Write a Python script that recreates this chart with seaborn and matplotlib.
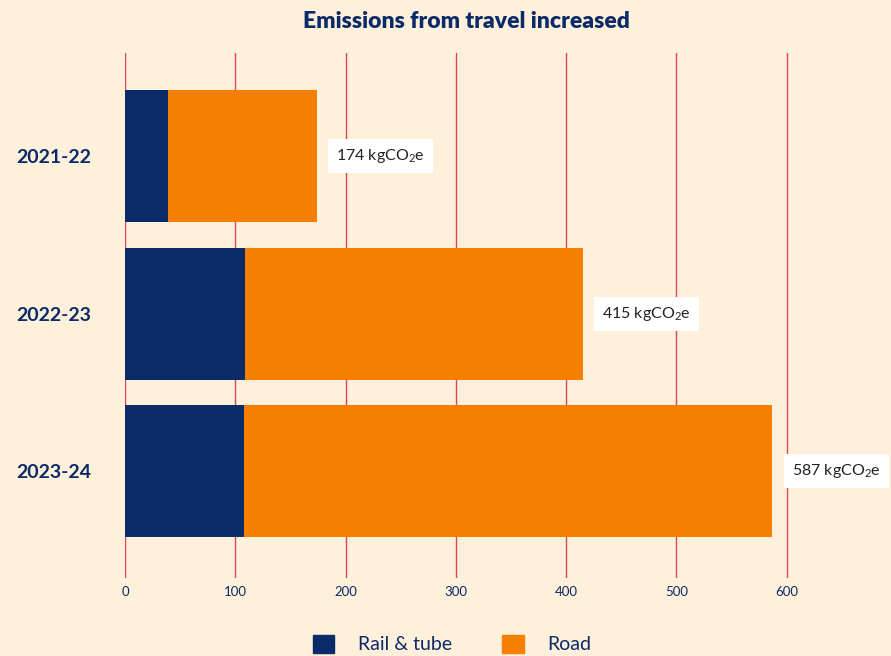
import numpy as np
import pandas as pd
import matplotlib.pyplot as plt
import seaborn as sns
from matplotlib.patches import Patch

# datos
years = ["2021-22", "2022-23", "2023-24"]
rail = [39, 109, 108]
road = [135, 306, 479]
xticks = [0, 100, 200, 300, 400, 500, 600]

bg = "#FEF0DA"
navy = "#0B2A68"
orange = "#F77F00"
red = "#D42A3C"

df = pd.DataFrame({"year": years, "rail": rail, "road": road})
df["total"] = df["rail"] + df["road"]

sns.set_theme(style="white")
plt.rcParams["font.family"] = ["Lato", "DejaVu Sans"]
plt.rcParams["mathtext.fontset"] = "custom"
plt.rcParams["mathtext.rm"] = "Lato"
plt.rcParams["mathtext.it"] = "Lato"

fig = plt.figure(figsize=(8.91, 6.56), dpi=100, facecolor=bg)
ax = fig.add_axes([125 / 891, 1 - 578 / 656, 761 / 891, 525 / 656])
ax.set_facecolor(bg)

# barras apiladas: total (carretera) y encima tren
sns.barplot(data=df, x="total", y="year", color=orange, width=0.84,
            saturation=1, linewidth=0, ax=ax, zorder=2)
sns.barplot(data=df, x="rail", y="year", color=navy, width=0.84,
            saturation=1, linewidth=0, ax=ax, zorder=3)

labels = [f"{t} kgCO$_2$e" for t in df["total"]]
ax.bar_label(ax.containers[0], labels=labels, padding=14, fontsize=11.5,
             color="#222222",
             bbox=dict(boxstyle="square,pad=0.5", fc="white", ec="none"))

ax.set_xlim(0, 690)
ax.set_ylim(2.681, -0.658)
ax.set_xticks(xticks)
ax.set_xticklabels([str(v) for v in xticks], fontsize=9.5, color=navy)
ax.tick_params(axis="x", length=0, pad=6)
ax.tick_params(axis="y", length=0, pad=78)
for lab in ax.get_yticklabels():
    lab.set_horizontalalignment("left")
    lab.set_fontweight("bold")
    lab.set_fontsize(14)
    lab.set_color(navy)

ax.set_xlabel("")
ax.set_ylabel("")
ax.grid(axis="x", color=red, linewidth=1, alpha=0.85, zorder=0)
ax.grid(axis="y", visible=False)
ax.set_axisbelow(True)
for s in ax.spines.values():
    s.set_visible(False)

fig.text(466 / 891, 1 - 22 / 656, "Emissions from travel increased",
         ha="center", va="center", fontsize=16.5, fontweight="heavy", color=navy)

handles = [Patch(color=navy, label="Rail & tube"), Patch(color=orange, label="Road")]
fig.legend(handles=handles, loc="center", bbox_to_anchor=(452 / 891, 12 / 656),
           ncol=2, frameon=False, fontsize=14, labelcolor=navy,
           handlelength=1.1, handleheight=1.1, handletextpad=1.2,
           columnspacing=2.6)

fig.savefig("out.png", dpi=100, facecolor=bg)
